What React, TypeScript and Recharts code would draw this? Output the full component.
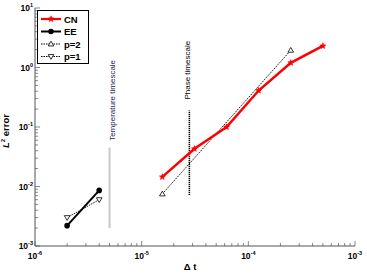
import { ComposedChart, Line, XAxis, YAxis, ReferenceDot } from 'recharts'

// time step sizes and L2 errors
const cnDt = [1.5625e-5, 3.125e-5, 6.25e-5, 1.25e-4, 2.5e-4, 5e-4]
const cnErr = [0.0145, 0.043, 0.1, 0.41, 1.2, 2.3]
const eeDt = [2e-6, 4e-6]
const eeErr = [0.0022, 0.0086]
const p2Dt = [1.5625e-5, 2.5e-4]
const p2Err = [0.0075, 1.95]
const p1Dt = [2e-6, 4e-6]
const p1Err = [0.003, 0.006]
const tempDt = [5e-6, 5e-6]
const tempErr = [0.002, 0.045]
const phaseDt = [2.8e-5, 2.8e-5]
const phaseErr = [0.0072, 0.19]

const xMajor = [1e-6, 1e-5, 1e-4, 1e-3]
const yMajor = [1e-3, 1e-2, 1e-1, 1, 10]

function withMinors(majors: number[]) {
  const out: number[] = []
  majors.forEach((m, i) => {
    out.push(m)
    if (i < majors.length - 1) for (let k = 2; k <= 9; k++) out.push(m * k)
  })
  return out
}
const xTicks = withMinors(xMajor)
const yTicks = withMinors(yMajor)

const pts = (xs: number[], ys: number[]) => xs.map((x, i) => ({ x, y: ys[i] }))

const isMajor = (v: number) => Math.abs(Math.log10(v) - Math.round(Math.log10(v))) < 1e-6
const expOf = (v: number) => String(Math.round(Math.log10(v)))

const FONT = '"Liberation Sans", Arial, sans-serif'
const AX = '#555'

function XTick(props: any) {
  const { x, y, payload, top } = props
  const major = isMajor(payload.value)
  const len = major ? 5 : 3
  return (
    <g>
      <line x1={x} y1={y} x2={x} y2={top ? y + len : y - len} stroke={AX} strokeWidth={0.7} />
      {!top && major && (
        <text x={x} y={y + 13} textAnchor="middle" fontFamily={FONT} fontWeight="bold" fontSize={8.5} fill="#000">
          <tspan>10</tspan>
          <tspan dy={-4} fontSize={5.5}>{expOf(payload.value)}</tspan>
        </text>
      )}
    </g>
  )
}

function YTick(props: any) {
  const { x, y, payload, right } = props
  const major = isMajor(payload.value)
  const len = major ? 5 : 3
  return (
    <g>
      <line x1={x} y1={y} x2={right ? x - len : x + len} y2={y} stroke={AX} strokeWidth={0.7} />
      {!right && major && (
        <text x={x - 2} y={y + 3} textAnchor="end" fontFamily={FONT} fontWeight="bold" fontSize={8.5} fill="#000">
          <tspan>10</tspan>
          <tspan dy={-4} fontSize={5.5}>{expOf(payload.value)}</tspan>
        </text>
      )}
    </g>
  )
}

function Star(props: any) {
  const { cx, cy } = props
  if (cx == null || cy == null) return null
  const r = 3.2
  const p: string[] = []
  for (let i = 0; i < 10; i++) {
    const a = -Math.PI / 2 + (i * Math.PI) / 5
    const rr = i % 2 === 0 ? r : r * 0.45
    p.push(`${cx + rr * Math.cos(a)},${cy + rr * Math.sin(a)}`)
  }
  return <polygon key={`s${cx}`} points={p.join(' ')} fill="#ff0000" stroke="#ff0000" strokeWidth={0.5} />
}

function Dot(props: any) {
  const { cx, cy } = props
  if (cx == null || cy == null) return null
  return <circle key={`d${cx}`} cx={cx} cy={cy} r={2.8} fill="#000" />
}

function TriUp(props: any) {
  const { cx, cy } = props
  if (cx == null || cy == null) return null
  const r = 2.8
  return <polygon key={`u${cx}`} points={`${cx},${cy - r} ${cx - r},${cy + r * 0.7} ${cx + r},${cy + r * 0.7}`} fill="#fff" stroke="#000" strokeWidth={0.8} />
}

function TriDown(props: any) {
  const { cx, cy } = props
  if (cx == null || cy == null) return null
  const r = 2.8
  return <polygon key={`v${cx}`} points={`${cx},${cy + r} ${cx - r},${cy - r * 0.7} ${cx + r},${cy - r * 0.7}`} fill="#fff" stroke="#000" strokeWidth={0.8} />
}

const legendItems = [
  { name: 'CN', color: '#ff0000', width: 2.2, dash: undefined, Marker: Star },
  { name: 'EE', color: '#000', width: 2, dash: undefined, Marker: Dot },
  { name: 'p=2', color: '#000', width: 1, dash: '1.5 1', Marker: TriUp },
  { name: 'p=1', color: '#000', width: 1, dash: '1.5 1', Marker: TriDown },
]

function LegendBox() {
  return (
    <svg width={52} height={54} style={{ display: 'block' }}>
      <rect x={0.5} y={0.5} width={51} height={53} fill="#fff" stroke="#000" strokeWidth={1} />
      {legendItems.map((it, i) => {
        const cy = 9 + i * 12.5
        const M = it.Marker
        return (
          <g key={it.name}>
            <line x1={4} y1={cy} x2={24} y2={cy} stroke={it.color} strokeWidth={it.width} strokeDasharray={it.dash} />
            <M cx={14} cy={cy} />
            <text x={27} y={cy + 3.5} fontFamily={FONT} fontWeight="bold" fontSize={9.5} fill="#000">{it.name}</text>
          </g>
        )
      })}
    </svg>
  )
}

function RotLabel(props: any) {
  const { viewBox, text, color } = props
  if (!viewBox) return null
  const cx = viewBox.x + (viewBox.width || 0) / 2
  const cy = viewBox.y + (viewBox.height || 0) / 2
  return (
    <text x={cx} y={cy} transform={`rotate(-90 ${cx} ${cy})`} textAnchor="middle" dominantBaseline="central" fontFamily={FONT} fontSize={8} fill={color}>
      {text}
    </text>
  )
}

export default function App() {
  return (
    <div style={{ position: 'absolute', left: 0, top: 0, width: 367, height: 277, background: '#fff' }}>
      <ComposedChart width={367} height={277} margin={{ top: 8, right: 12, bottom: 11, left: 5 }}>
        <XAxis xAxisId="b" type="number" dataKey="x" scale="log" domain={[1e-6, 1e-3]} allowDataOverflow ticks={xTicks}
          interval={0} tickSize={0} tickMargin={0} tickLine={false} tick={<XTick />} height={20} stroke={AX}
          label={(p: any) => {
            const vb = p.viewBox
            return <text x={vb.x + vb.width / 2 - 5} y={vb.y + 24} textAnchor="middle" fontFamily={FONT} fontWeight="bold" fontSize={9.5}>Δ t</text>
          }} />
        <XAxis xAxisId="t" orientation="top" type="number" dataKey="x" scale="log" domain={[1e-6, 1e-3]} allowDataOverflow ticks={xTicks}
          interval={0} tickSize={0} tickMargin={0} tickLine={false} tick={<XTick top />} height={0} stroke={AX} />
        <YAxis yAxisId="l" type="number" scale="log" domain={[1e-3, 10]} allowDataOverflow ticks={yTicks}
          interval={0} tickSize={0} tickMargin={0} tickLine={false} tick={<YTick />} width={30} stroke={AX}
          label={(p: any) => {
            const vb = p.viewBox
            const cx = 9
            const cy = vb.y + vb.height / 2 + 4
            return (
              <text x={cx} y={cy} transform={`rotate(-90 ${cx} ${cy})`} textAnchor="middle" fontFamily={FONT} fontWeight="bold" fontSize={9.5}>
                <tspan fontStyle="italic">L</tspan><tspan dy={-4} fontSize={6}>2</tspan><tspan dy={4}> error</tspan>
              </text>
            )
          }} />
        <YAxis yAxisId="r" orientation="right" type="number" scale="log" domain={[1e-3, 10]} allowDataOverflow ticks={yTicks}
          interval={0} tickSize={0} tickMargin={0} tickLine={false} tick={<YTick right />} width={0} stroke={AX} />

        <Line xAxisId="b" yAxisId="l" data={pts(tempDt, tempErr)} dataKey="y" stroke="#c8c8c8" strokeWidth={2} dot={false} isAnimationActive={false} legendType="none" />
        <Line xAxisId="b" yAxisId="l" data={pts(phaseDt, phaseErr)} dataKey="y" stroke="#000" strokeWidth={1.6} strokeDasharray="1.2 0.8" dot={false} isAnimationActive={false} legendType="none" />
        <Line xAxisId="b" yAxisId="l" data={pts(p2Dt, p2Err)} dataKey="y" name="p=2" stroke="#000" strokeWidth={0.9} strokeDasharray="1.5 1" dot={<TriUp />} isAnimationActive={false} />
        <Line xAxisId="b" yAxisId="l" data={pts(p1Dt, p1Err)} dataKey="y" name="p=1" stroke="#000" strokeWidth={0.9} strokeDasharray="1.5 1" dot={<TriDown />} isAnimationActive={false} />
        <Line xAxisId="b" yAxisId="l" data={pts(cnDt, cnErr)} dataKey="y" name="CN" stroke="#ff0000" strokeWidth={2.5} dot={<Star />} isAnimationActive={false} />
        <Line xAxisId="b" yAxisId="l" data={pts(eeDt, eeErr)} dataKey="y" name="EE" stroke="#000" strokeWidth={2} dot={<Dot />} isAnimationActive={false} />

        <ReferenceDot xAxisId="b" yAxisId="l" x={5.3e-6} y={0.28} r={0} stroke="none" fill="none" ifOverflow="visible"
          label={<RotLabel text="Temperature timescale" color="#1c1c5c" />} />
        <ReferenceDot xAxisId="b" yAxisId="l" x={2.7e-5} y={0.9} r={0} stroke="none" fill="none" ifOverflow="visible"
          label={<RotLabel text="Phase timescale" color="#000" />} />
      </ComposedChart>
      <div style={{ position: 'absolute', left: 37, top: 10 }}>
        <LegendBox />
      </div>
    </div>
  )
}
